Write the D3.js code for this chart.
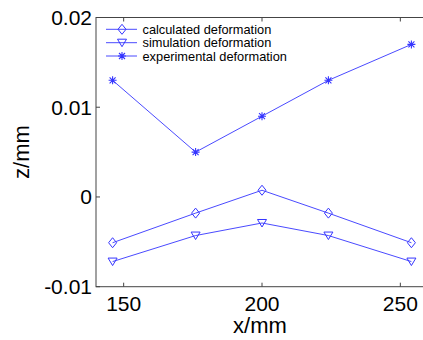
<!DOCTYPE html>
<html><head><meta charset="utf-8">
<script src="https://cdn.jsdelivr.net/npm/d3@7"></script>
<style>
html,body{margin:0;padding:0;background:#fff;}
svg{display:block;font-family:Arial,"Liberation Sans",sans-serif;}
</style></head>
<body>
<svg id="chart" width="423" height="340"></svg>
<script>
const xValues = [146, 176, 200, 224, 254];
const calculated = [-0.0051, -0.0018, 0.00075, -0.0018, -0.0051];
const simulation = [-0.0072, -0.0043, -0.0029, -0.0043, -0.0072];
const experimental = [0.013, 0.005, 0.009, 0.013, 0.017];
const seriesNames = ["calculated deformation", "simulation deformation", "experimental deformation"];
const xTicks = [150, 200, 250];
const yTicks = [-0.01, 0, 0.01, 0.02];
const yTickLabels = ["-0.01", "0", "0.01", "0.02"];

(function () {
const svg = d3.select("#chart");
const pl = 96, pt = 17.5, pb = 286.7, pr = 428;
const x = d3.scaleLinear().domain([140, 260]).range([pl, pr]);
const y = d3.scaleLinear().domain([-0.01, 0.02]).range([pb, pt]);
const blue = "#3535ff";

const axisColor = "#444";
svg.append("rect").attr("x", pl).attr("y", pt).attr("width", pr - pl).attr("height", pb - pt)
  .attr("fill", "none").attr("stroke", axisColor).attr("stroke-width", 1);

const tickLen = 4;
xTicks.forEach(t => {
  svg.append("line").attr("x1", x(t)).attr("x2", x(t)).attr("y1", pb).attr("y2", pb - tickLen).attr("stroke", axisColor);
  svg.append("line").attr("x1", x(t)).attr("x2", x(t)).attr("y1", pt).attr("y2", pt + tickLen).attr("stroke", axisColor);
  svg.append("text").attr("x", x(t)).attr("y", 311).attr("text-anchor", "middle")
    .attr("font-size", 21).attr("fill", "#000").text(t);
});
yTicks.forEach((t, i) => {
  svg.append("line").attr("x1", pl).attr("x2", pl + tickLen).attr("y1", y(t)).attr("y2", y(t)).attr("stroke", axisColor);
  svg.append("line").attr("x1", pr).attr("x2", pr - tickLen).attr("y1", y(t)).attr("y2", y(t)).attr("stroke", axisColor);
  svg.append("text").attr("x", pl - 4).attr("y", y(t) + 7.5).attr("text-anchor", "end")
    .attr("font-size", 21).attr("fill", "#000").text(yTickLabels[i]);
});

svg.append("text").attr("x", 260).attr("y", 332.5).attr("text-anchor", "middle")
  .attr("font-size", 22).attr("fill", "#000").text("x/mm");
svg.append("text").attr("transform", "translate(29,152) rotate(-90)").attr("text-anchor", "middle")
  .attr("font-size", 22).attr("fill", "#000").text("z/mm");

function diamond(g, cx, cy) {
  g.append("path").attr("d", `M${cx},${cy-5}L${cx+4},${cy}L${cx},${cy+5}L${cx-4},${cy}Z`)
    .attr("fill", "none").attr("stroke", blue).attr("stroke-width", 1);
}
function triDown(g, cx, cy) {
  g.append("path").attr("d", `M${cx-4.5},${cy-3.5}L${cx+4.5},${cy-3.5}L${cx},${cy+4}Z`)
    .attr("fill", "none").attr("stroke", blue).attr("stroke-width", 1);
}
function star(g, cx, cy) {
  const r = 4, d = 3;
  g.append("path").attr("d", `M${cx-r},${cy}L${cx+r},${cy}M${cx},${cy-r}L${cx},${cy+r}M${cx-d},${cy-d}L${cx+d},${cy+d}M${cx-d},${cy+d}L${cx+d},${cy-d}`)
    .attr("fill", "none").attr("stroke", blue).attr("stroke-width", 1.1);
}
const markers = [diamond, triDown, star];
const data = [calculated, simulation, experimental];
const line = d3.line().x(d => x(d[0])).y(d => y(d[1]));

data.forEach((vals, si) => {
  const pts = xValues.map((xv, i) => [xv, vals[i]]);
  const g = svg.append("g");
  g.append("path").datum(pts).attr("d", line).attr("fill", "none").attr("stroke", blue).attr("stroke-width", 0.9);
  pts.forEach(p => markers[si](g, x(p[0]), y(p[1])));
});

const legY = [29.3, 42.7, 56];
seriesNames.forEach((name, i) => {
  const g = svg.append("g");
  g.append("line").attr("x1", 106).attr("x2", 137).attr("y1", legY[i]).attr("y2", legY[i])
    .attr("stroke", blue).attr("stroke-width", 0.9);
  markers[i](g, 122, legY[i]);
  g.append("text").attr("x", 142.5).attr("y", legY[i] + 4.5).attr("font-size", 12.8).attr("fill", "#000").text(name);
});
})();
</script>
</body></html>
